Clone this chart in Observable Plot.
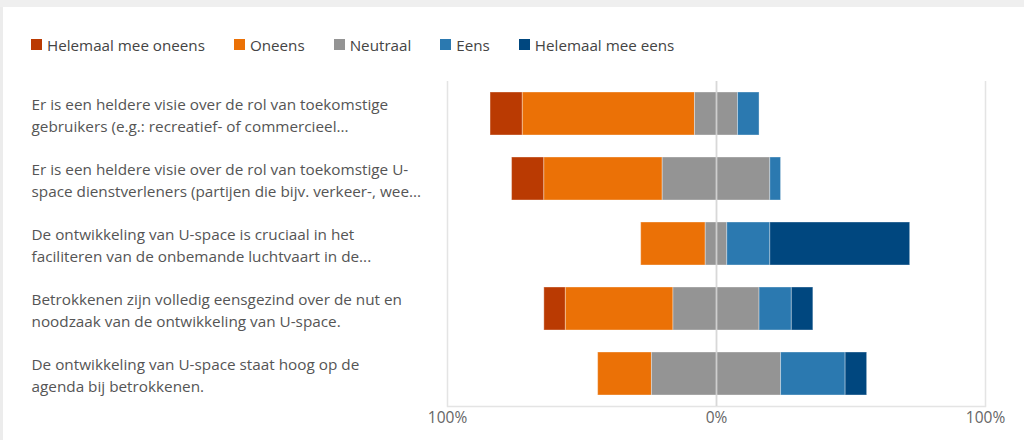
<!DOCTYPE html>
<html>
<head>
<meta charset="utf-8">
<script src="https://cdn.jsdelivr.net/npm/d3@7"></script>
<script src="https://cdn.jsdelivr.net/npm/@observablehq/plot@0.6"></script>
<style>
  html, body { margin: 0; padding: 0; background: #fff; }
  body { width: 1024px; height: 440px; overflow: hidden; position: relative; font-family: "Open Sans", "Noto Sans", sans-serif; }
  #topband { position: absolute; left: 0; top: 0; width: 1024px; height: 7px; background: #efefef; }
  #leftband { position: absolute; left: 0; top: 7px; width: 3px; height: 433px; background: #ececec; }
  #legend { position: absolute; left: 31px; top: 28px; }
  #chart { position: absolute; left: 0; top: 0; }
  .lg-swatch { margin-right: 29px !important; }
  .lg-swatch > svg { margin-right: 5px !important; }
</style>
</head>
<body>
<div id="topband"></div>
<div id="leftband"></div>
<div id="chart"></div>
<div id="legend"></div>
<script>
const questions = [
  "Er is een heldere visie over de rol van toekomstige\ngebruikers (e.g.: recreatief- of commercieel...",
  "Er is een heldere visie over de rol van toekomstige U-\nspace dienstverleners (partijen die bijv. verkeer-, wee...",
  "De ontwikkeling van U-space is cruciaal in het\nfaciliteren van de onbemande luchtvaart in de...",
  "Betrokkenen zijn volledig eensgezind over de nut en\nnoodzaak van de ontwikkeling van U-space.",
  "De ontwikkeling van U-space staat hoog op de\nagenda bij betrokkenen."
];
const levels = ["Helemaal mee oneens", "Oneens", "Neutraal", "Eens", "Helemaal mee eens"];
const colors = ["#ba3a02", "#eb7106", "#949494", "#2b79b0", "#00477f"];
const helemaalOneens = [12, 12, 0, 8, 0];
const oneens = [64, 44, 24, 40, 20];
const neutraal = [16, 40, 8, 32, 48];
const eens = [8, 4, 16, 12, 24];
const helemaalEens = [0, 0, 52, 8, 8];
const tickValues = [-100, 0, 100];
const tickLabels = ["100%", "0%", "100%"];

const series = [helemaalOneens, oneens, neutraal, eens, helemaalEens];
const segments = [];
questions.forEach((q, i) => {
  let cur = -(helemaalOneens[i] + oneens[i] + neutraal[i] / 2);
  levels.forEach((lvl, j) => {
    const v = series[j][i];
    if (v > 0) segments.push({question: q, level: lvl, x1: cur, x2: cur + v});
    cur += v;
  });
});

const font = "'Open Sans', 'Noto Sans', sans-serif";

const chart = Plot.plot({
  width: 1024,
  height: 440,
  marginLeft: 447,
  marginRight: 39,
  marginTop: 81,
  marginBottom: 34,
  style: {fontFamily: font, background: "transparent", overflow: "visible"},
  x: {domain: [-100, 100], axis: null},
  y: {domain: questions, paddingInner: 0.34, paddingOuter: 0.17, axis: null, label: null},
  color: {domain: levels, range: colors},
  marks: [
    Plot.ruleX([-100, 100], {stroke: "#e4e4e4", strokeWidth: 1.5}),
    Plot.frame({anchor: "bottom", stroke: "#e4e4e4", strokeWidth: 1.5, strokeOpacity: 1}),
    Plot.barX(segments, {y: "question", x1: "x1", x2: "x2", fill: "level", stroke: "#ffffff", strokeOpacity: 0.35, strokeWidth: 1, inset: 0}),
    Plot.ruleX([0], {stroke: "#d4d4d4", strokeWidth: 1.8, strokeOpacity: 0.9}),
    Plot.axisY({
      anchor: "left", label: null, tickSize: 0, tickPadding: 0, textAnchor: "start", dx: -416,
      fontSize: 15.3, lineHeight: 1.44, fill: "#555", tickFormat: d => d
    }),
    Plot.axisX({
      anchor: "bottom", label: null, ticks: tickValues, tickSize: 0, tickPadding: 5,
      tickFormat: (d) => tickLabels[tickValues.indexOf(d)], fontSize: 15.5, fill: "#666"
    })
  ]
});
document.getElementById("chart").appendChild(chart);

const legend = Plot.legend({
  color: {domain: levels, range: colors},
  legend: "swatches",
  swatchSize: 11,
  className: "lg",
  style: {fontSize: "15.2px", fontFamily: font, color: "#444"}
});
document.getElementById("legend").appendChild(legend);
</script>
</body>
</html>
